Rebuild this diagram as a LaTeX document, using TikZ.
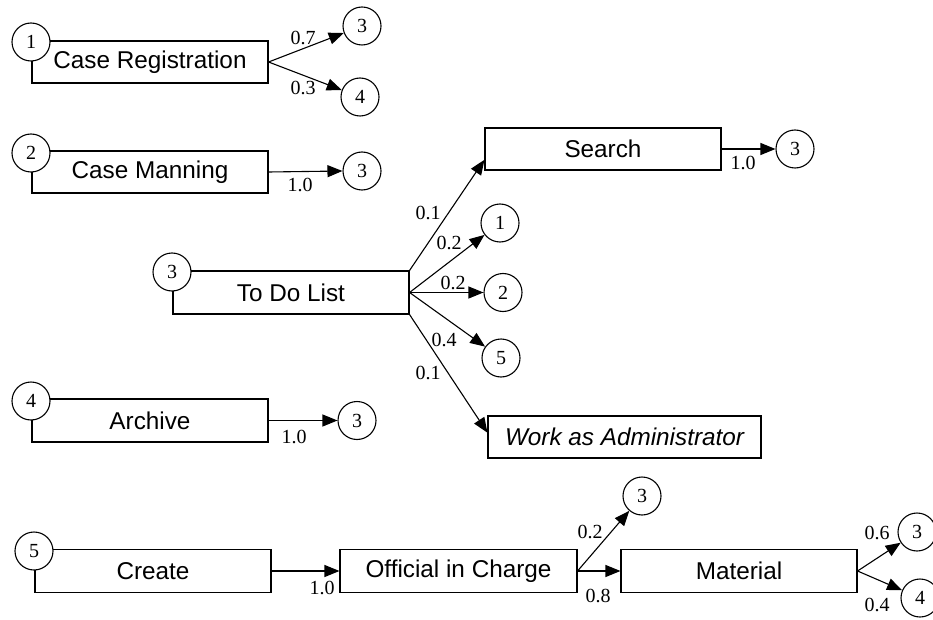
\documentclass[tikz,border=0pt]{standalone}
\usepackage{fontspec}
\setmainfont{Liberation Serif}
\setsansfont{Liberation Sans}
\usetikzlibrary{arrows.meta,calc}

\tikzset{
  task/.style={draw, line width=1.1pt, inner sep=0pt, minimum height=42pt,
    font=\sffamily\fontsize{24.3}{26}\selectfont},
  ref/.style={draw, circle, fill=white, line width=1.1pt, inner sep=0pt,
    minimum size=38pt, font=\fontsize{20}{22}\selectfont},
  flow/.style={line width=1.1pt, -{Triangle[length=15pt,width=12pt]}},
  prob/.style={inner sep=0pt, font=\fontsize{20}{22}\selectfont},
}

\begin{document}
\begin{tikzpicture}[x=1pt,y=-1pt]
\useasboundingbox (0,0) rectangle (933,620);

% activity boxes
\node[task, minimum width=236pt] (reg)    at (150,62)    {Case Registration};
\node[task, minimum width=236pt] (man)    at (150,172)   {Case Manning};
\node[task, minimum width=236pt, minimum height=43pt] (todo) at (291,292.5) {To Do List};
\node[task, minimum width=236pt, minimum height=43pt] (arch) at (150,420.5) {Archive};
\node[task, minimum width=236pt, minimum height=43pt] (create) at (153,571) {Create};
\node[task, minimum width=236pt] (search) at (603,149)   {Search};
\node[task, minimum width=273pt] (admin)  at (624.5,437) {\itshape Work as Administrator};
\node[task, minimum width=237pt, minimum height=43pt] (official) at (458.5,571) {Official in Charge};
\node[task, minimum width=236pt, minimum height=43pt] (material) at (739,571) {Material};

% arrow ends on box sides
\coordinate (searchin) at ($(search.south west)!0.25!(search.north west)$);
\coordinate (adminin)  at ($(admin.north west)!0.4!(admin.south west)$);

% target references
\node[ref] (r13) at (362,26)  {3};
\node[ref] (r14) at (360,97)  {4};
\node[ref] (r23) at (362,171) {3};
\node[ref] (rs3) at (795,149) {3};
\node[ref] (rt1) at (500,223) {1};
\node[ref] (rt2) at (503,292.5) {2};
\node[ref] (rt5) at (501,358) {5};
\node[ref] (ra3) at (357,420.5) {3};
\node[ref] (ro3) at (642,496) {3};
\node[ref] (rm3) at (917,532) {3};
\node[ref] (rm4) at (920,598) {4};

% transitions
\draw[flow] (reg.east) -- (r13);
\draw[flow] (reg.east) -- (r14);
\draw[flow] (man.east) -- (r23.west);
\draw[flow] (search.east) -- (rs3.west);
\draw[flow] (todo.north east) -- (searchin);
\draw[flow] (todo.east) -- (rt1);
\draw[flow] (todo.east) -- (rt2.west);
\draw[flow] (todo.east) -- (rt5);
\draw[flow] (todo.south east) -- (adminin);
\draw[flow] (arch.east) -- (ra3.west);
\draw[flow] (create.east) -- (official.west);
\draw[flow] (official.east) -- (ro3);
\draw[flow] (official.east) -- (material.west);
\draw[flow] (material.east) -- (rm3);
\draw[flow] (material.east) -- (rm4);

% activity numbers on box corners
\node[ref] (n1) at (31,42)   {1};
\node[ref] (n2) at (31,153)  {2};
\node[ref] (n3) at (172,272) {3};
\node[ref] (n4) at (31,401)  {4};
\node[ref] (n5) at (34,551)  {5};

% transition probabilities
\node[prob] (p1) at (303,38)  {0.7};
\node[prob] (p2) at (303,88)  {0.3};
\node[prob] (p3) at (300,185) {1.0};
\node[prob] (p4) at (743,163) {1.0};
\node[prob] (p5) at (428,213) {0.1};
\node[prob] (p6) at (449,243) {0.2};
\node[prob] (p7) at (453,283) {0.2};
\node[prob] (p8) at (444,340) {0.4};
\node[prob] (p9) at (428,373) {0.1};
\node[prob] (p10) at (294,437) {1.0};
\node[prob] (p11) at (322,588) {1.0};
\node[prob] (p12) at (590,532) {0.2};
\node[prob] (p13) at (598,596) {0.8};
\node[prob] (p14) at (877,533) {0.6};
\node[prob] (p15) at (877,605) {0.4};
\end{tikzpicture}
\end{document}
